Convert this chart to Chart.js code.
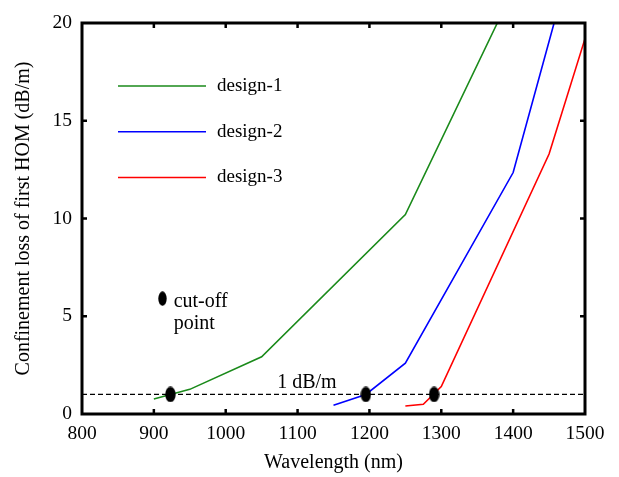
<!DOCTYPE html>
<html>
<head>
<meta charset="utf-8">
<script src="https://cdn.jsdelivr.net/npm/chart.js@4/dist/chart.umd.min.js"></script>
<style>
  html, body { margin: 0; padding: 0; background: #fff; }
</style>
</head>
<body>
<canvas id="chart" width="619" height="477"></canvas>
<script>
"use strict";

const xTicks = [800, 900, 1000, 1100, 1200, 1300, 1400, 1500];
const yTicks = [0, 5, 10, 15, 20];

const seriesNames = ["design-1", "design-2", "design-3"];
const design1Wavelength = [900, 950, 1050, 1250, 1378];
const design1Loss = [0.77, 1.26, 2.93, 10.2, 20];
const design2Wavelength = [1150, 1195, 1250, 1400, 1457];
const design2Loss = [0.45, 1.0, 2.6, 12.35, 20];
const design3Wavelength = [1250, 1275, 1300, 1450, 1500];
const design3Loss = [0.41, 0.5, 1.4, 13.3, 19.2];

const cutoffWavelength = [923, 1195, 1290];
const cutoffLoss = [1, 1, 1];
const thresholdLoss = 1;

const serif = "'Liberation Serif', 'DejaVu Serif', serif";
const colors = ["#1a8a1a", "#0000ff", "#ff0000"];

function toPoints(xs, ys) {
  const pts = [];
  for (let i = 0; i < xs.length; i++) {
    pts.push({ x: xs[i], y: ys[i] });
  }
  return pts;
}

// black ellipse used for the cut-off markers
function ellipse(w, h) {
  const c = document.createElement("canvas");
  c.width = w;
  c.height = h;
  const g = c.getContext("2d");
  g.fillStyle = "#000";
  g.beginPath();
  g.ellipse(w / 2, h / 2, w / 2 - 0.3, h / 2 - 0.3, 0, 0, Math.PI * 2);
  g.fill();
  return c;
}
const marker = ellipse(11, 16);
const keyMarker = ellipse(9, 15);

const extras = {
  id: "extras",
  afterDraw(chart) {
    const ctx = chart.ctx;
    const a = chart.chartArea;
    const sx = chart.scales.x;
    const sy = chart.scales.y;
    ctx.save();

    // frame with inward ticks
    ctx.strokeStyle = "#000";
    ctx.lineWidth = 3;
    ctx.strokeRect(a.left, a.top, a.right - a.left, a.bottom - a.top);
    ctx.lineWidth = 2.5;
    ctx.beginPath();
    for (let i = 1; i < xTicks.length - 1; i++) {
      const px = sx.getPixelForValue(xTicks[i]);
      ctx.moveTo(px, a.bottom); ctx.lineTo(px, a.bottom - 5);
      ctx.moveTo(px, a.top); ctx.lineTo(px, a.top + 5);
    }
    for (let i = 1; i < yTicks.length - 1; i++) {
      const py = sy.getPixelForValue(yTicks[i]);
      ctx.moveTo(a.left, py); ctx.lineTo(a.left + 5, py);
      ctx.moveTo(a.right, py); ctx.lineTo(a.right - 5, py);
    }
    ctx.stroke();

    // legend
    ctx.font = "19px " + serif;
    ctx.fillStyle = "#000";
    ctx.textBaseline = "middle";
    ctx.textAlign = "left";
    ctx.lineWidth = 1.5;
    for (let i = 0; i < seriesNames.length; i++) {
      const ly = a.top + 63 + i * 45.7;
      ctx.strokeStyle = colors[i];
      ctx.beginPath();
      ctx.moveTo(a.left + 36, ly);
      ctx.lineTo(a.left + 124, ly);
      ctx.stroke();
      ctx.fillText(seriesNames[i], a.left + 135, ly);
    }

    // annotations
    ctx.font = "20px " + serif;
    ctx.fillText("cut-off", sx.getPixelForValue(927.6), sy.getPixelForValue(5.75));
    ctx.fillText("point", sx.getPixelForValue(927.6), sy.getPixelForValue(4.6));
    ctx.textAlign = "center";
    ctx.fillText("1 dB/m", sx.getPixelForValue(1113), sy.getPixelForValue(thresholdLoss) - 12);
    ctx.restore();
  },
};

const datasets = [];
const seriesX = [design1Wavelength, design2Wavelength, design3Wavelength];
const seriesY = [design1Loss, design2Loss, design3Loss];
for (let i = 0; i < seriesNames.length; i++) {
  datasets.push({
    label: seriesNames[i],
    data: toPoints(seriesX[i], seriesY[i]),
    borderColor: colors[i],
    borderWidth: 1.6,
    pointRadius: 0,
    tension: 0,
    order: 1,
  });
}
datasets.push({
  label: "1 dB/m",
  data: toPoints([xTicks[0], xTicks[xTicks.length - 1]], [thresholdLoss, thresholdLoss]),
  borderColor: "#000",
  borderWidth: 1.2,
  borderDash: [5, 3],
  pointRadius: 0,
  order: 2,
});
datasets.push({
  label: "cut-off",
  data: toPoints(cutoffWavelength, cutoffLoss),
  showLine: false,
  pointStyle: marker,
  order: 0,
});
datasets.push({
  label: "cut-off key",
  data: [{ x: 912, y: 5.9 }],
  showLine: false,
  pointStyle: keyMarker,
  order: 0,
});

const tickFont = { family: serif, size: 19.5 };
const titleFont = { family: serif, size: 20 };

new Chart(document.getElementById("chart"), {
  type: "line",
  data: { datasets: datasets },
  options: {
    responsive: false,
    animation: false,
    layout: { padding: { top: 23, right: 34, left: 0, bottom: 0 } },
    plugins: { legend: { display: false }, tooltip: { enabled: false } },
    scales: {
      x: {
        type: "linear",
        min: 800,
        max: 1500,
        afterBuildTicks: (s) => { s.ticks = xTicks.map((v) => ({ value: v })); },
        afterFit: (s) => { s.height = 63; },
        grid: { display: false, drawTicks: false },
        border: { display: false },
        ticks: { font: tickFont, color: "#000", padding: 8, maxRotation: 0, callback: (v) => String(v) },
        title: { display: true, text: "Wavelength (nm)", font: titleFont, color: "#000", padding: { top: 0, bottom: 2 } },
      },
      y: {
        min: 0,
        max: 20,
        afterBuildTicks: (s) => { s.ticks = yTicks.map((v) => ({ value: v })); },
        afterFit: (s) => { s.width = 82; },
        grid: { display: false, drawTicks: false },
        border: { display: false },
        ticks: { font: tickFont, color: "#000", padding: 10, callback: (v) => String(v) },
        title: { display: true, text: "Confinement loss of first HOM (dB/m)", font: titleFont, color: "#000", padding: { top: 12, bottom: 0 } },
      },
    },
  },
  plugins: [extras],
});
</script>
</body>
</html>
